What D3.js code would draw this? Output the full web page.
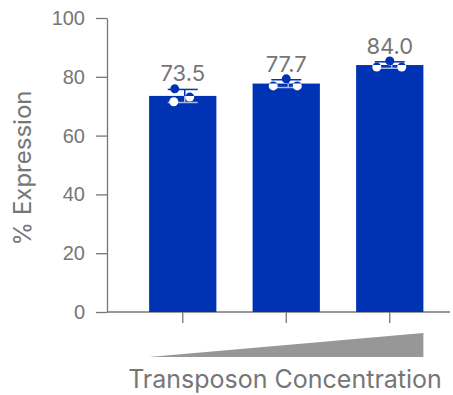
<!DOCTYPE html>
<html>
<head>
<meta charset="utf-8">
<script src="https://cdn.jsdelivr.net/npm/d3@7"></script>
<style>
  body { margin: 0; background: #fff; }
  svg { display: block; font-family: Inter, "Noto Sans", sans-serif; }
</style>
</head>
<body>
<div id="chart"></div>
<script>
// data
const groups = ["low", "mid", "high"];
const means = [73.5, 77.7, 84.0];
const sds = [2.2, 1.3, 1.1];
const replicates = [
  [75.9, 71.5, 73.1],
  [76.9, 79.3, 76.9],
  [83.3, 85.4, 83.3]
];
const yTicks = [0, 20, 40, 60, 80, 100];
// horizontal jitter of the replicate dots (px)
const jitter = [[-8, -9, 7], [-13, 0, 11], [-13, 0, 12]];

const width = 453, height = 395;
const blue = "#0033b3", grey = "#767676";

const svg = d3.select("#chart")
  .append("svg")
  .attr("width", width)
  .attr("height", height);

const x = d3.scaleBand()
  .domain(groups)
  .range([131, 441.5])
  .paddingInner(0.35)
  .paddingOuter(0.175);

const y = d3.scaleLinear()
  .domain([0, 100])
  .range([312, 18]);

const axisX0 = 107;

// y axis
svg.append("g")
  .attr("transform", `translate(${axisX0},0)`)
  .call(d3.axisLeft(y).tickValues(yTicks).tickSize(11).tickPadding(11).tickSizeOuter(0))
  .call(g => g.selectAll("line, path").attr("stroke", grey).attr("stroke-width", 1.3))
  .call(g => g.selectAll("text").attr("fill", grey).attr("font-size", 20).attr("font-family", null));

// x axis baseline + ticks
const xAxis = svg.append("g")
  .attr("transform", `translate(0,${y(0)})`);
xAxis.append("line")
  .attr("x1", axisX0).attr("x2", 450)
  .attr("stroke", grey).attr("stroke-width", 1.3);
xAxis.selectAll("line.tick")
  .data(groups)
  .join("line")
  .attr("class", "tick")
  .attr("x1", d => x(d) + x.bandwidth() / 2)
  .attr("x2", d => x(d) + x.bandwidth() / 2)
  .attr("y1", 0).attr("y2", 11)
  .attr("stroke", grey).attr("stroke-width", 1.3);

// bars
svg.append("g")
  .selectAll("rect")
  .data(groups)
  .join("rect")
  .attr("x", d => x(d))
  .attr("width", x.bandwidth())
  .attr("y", (d, i) => y(means[i]))
  .attr("height", (d, i) => y(0) - y(means[i]))
  .attr("fill", blue);

// clip for the parts that sit on top of the bars
svg.append("clipPath")
  .attr("id", "barclip")
  .selectAll("rect")
  .data(groups)
  .join("rect")
  .attr("x", d => x(d))
  .attr("width", x.bandwidth())
  .attr("y", (d, i) => y(means[i]))
  .attr("height", (d, i) => y(0) - y(means[i]));

function drawMarks(g, lineColor, dotColor) {
  const cap = 15;
  groups.forEach((d, i) => {
    const cx = x(d) + x.bandwidth() / 2;
    const hi = y(means[i] + sds[i]), lo = y(means[i] - sds[i]);
    g.append("line").attr("x1", cx + 2).attr("x2", cx + 2).attr("y1", hi).attr("y2", lo)
      .attr("stroke", lineColor).attr("stroke-width", 1.5);
    [hi, lo].forEach(v => {
      g.append("line").attr("x1", cx - cap).attr("x2", cx + cap).attr("y1", v).attr("y2", v)
        .attr("stroke", lineColor).attr("stroke-width", 1.5);
    });
    g.selectAll(null)
      .data(replicates[i])
      .join("circle")
      .attr("cx", (v, j) => cx + jitter[i][j])
      .attr("cy", v => y(v))
      .attr("r", 4.5)
      .attr("fill", dotColor);
  });
}

drawMarks(svg.append("g"), blue, blue);
drawMarks(svg.append("g").attr("clip-path", "url(#barclip)"), "#a9b9e6", "#fff");

// value labels
svg.append("g")
  .selectAll("text")
  .data(groups)
  .join("text")
  .attr("x", d => x(d) + x.bandwidth() / 2)
  .attr("y", (d, i) => y(means[i] + sds[i]) - 8)
  .attr("text-anchor", "middle")
  .attr("font-size", 22)
  .attr("fill", grey)
  .text((d, i) => means[i].toFixed(1));

// concentration wedge
const wedge = d3.scaleLinear().domain([0, 1]).range([x(groups[0]), x(groups[2]) + x.bandwidth()]);
svg.append("path")
  .attr("d", d3.line()([[wedge(0), 357], [wedge(1), 333], [wedge(1), 357]]) + "Z")
  .attr("fill", "#979797");

// axis titles
svg.append("text")
  .attr("x", 285)
  .attr("y", 388)
  .attr("text-anchor", "middle")
  .attr("font-size", 25)
  .attr("fill", grey)
  .text("Transposon Concentration");

svg.append("text")
  .attr("transform", "translate(31,168) rotate(-90)")
  .attr("text-anchor", "middle")
  .attr("font-size", 24)
  .attr("fill", grey)
  .text("% Expression");
</script>
</body>
</html>
